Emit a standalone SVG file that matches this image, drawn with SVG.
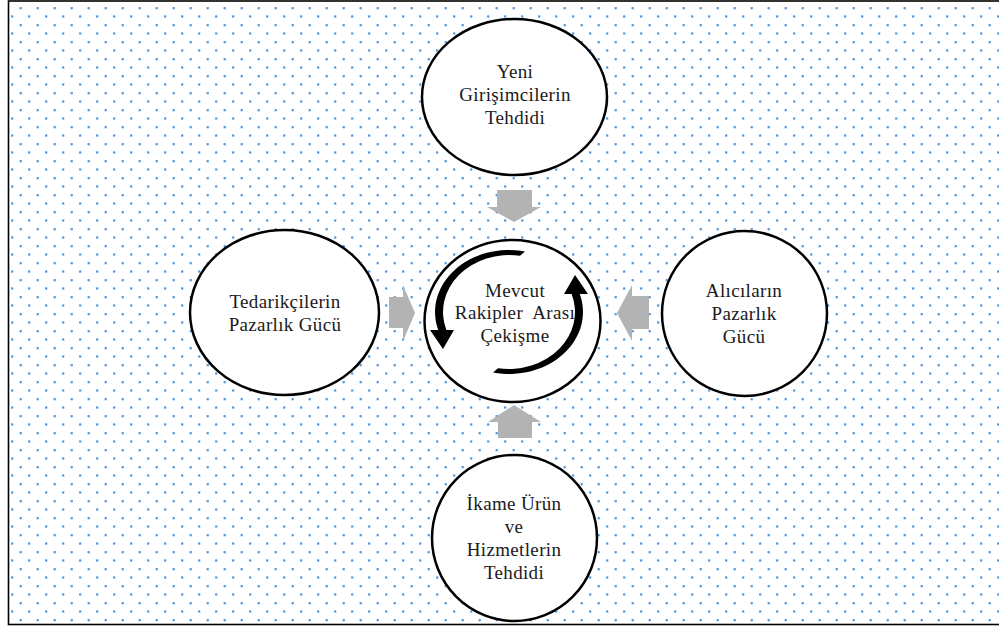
<svg xmlns="http://www.w3.org/2000/svg" width="999" height="626" viewBox="0 0 999 626">
<style>
.node ellipse{fill:#fff;stroke:#000;stroke-width:2.5}
.lbl{font-family:"Liberation Serif","Times New Roman",serif;font-size:19px;letter-spacing:0.35px;fill:#1a1a1a;text-anchor:middle}
.blk{fill:#b3b3b3}
.circ{fill:#000}
</style>
<defs>
<pattern id="dots" patternUnits="userSpaceOnUse" x="0" y="5" width="17" height="17">
<rect x="2.6" y="2.1" width="2.2" height="2.2" fill="#4f93d8"/>
<rect x="11.1" y="10.4" width="2.2" height="2.2" fill="#4f93d8"/>
</pattern>
<path id="carrow" d="M 16,-60.5 A 74 62 0 0 0 -70.8,18 L -79,18 L -66,37 L -55,18 L -62.6,18 A 66 57 0 0 1 11,-56.2 Z"/>
</defs>
<rect x="0" y="0" width="999" height="626" fill="#fff"/>
<rect x="8.5" y="1" width="996" height="623.5" fill="url(#dots)" stroke="#000" stroke-width="1.6"/>
<g id="connectors">
<path class="blk" d="M497,190 H532 V207 H541 L514,222 L487,207 H497 Z"/>
<path class="blk" d="M389,297 H403 V285 L415,313 L403,341 V328 H389 Z"/>
<path class="blk" d="M649,296 H632 V285 L617,313 L632,341 V329 H649 Z"/>
<path class="blk" d="M498,438 V422 H488 L514,405 L541,422 H532 V438 Z"/>
</g>
<g id="node-top" class="node">
<ellipse cx="514.5" cy="97" rx="92.5" ry="78"/>
<text class="lbl" x="515" y="78">Yeni</text>
<text class="lbl" x="515" y="101">Girişimcilerin</text>
<text class="lbl" x="515" y="124">Tehdidi</text>
</g>
<g id="node-left" class="node">
<ellipse cx="284.5" cy="312.5" rx="94.5" ry="82.5"/>
<text class="lbl" x="285" y="308">Tedarikçilerin</text>
<text class="lbl" x="285" y="331">Pazarlık Gücü</text>
</g>
<g id="node-right" class="node">
<ellipse cx="744.5" cy="313.5" rx="82.5" ry="82.5"/>
<text class="lbl" x="744" y="297">Alıcıların</text>
<text class="lbl" x="744" y="320">Pazarlık</text>
<text class="lbl" x="744" y="343">Gücü</text>
</g>
<g id="node-bottom" class="node">
<ellipse cx="514.5" cy="538" rx="82.5" ry="83"/>
<text class="lbl" x="514" y="510">İkame Ürün</text>
<text class="lbl" x="514" y="533">ve</text>
<text class="lbl" x="514" y="556">Hizmetlerin</text>
<text class="lbl" x="514" y="579">Tehdidi</text>
</g>
<g id="node-center" class="node">
<ellipse cx="512.5" cy="321" rx="88" ry="81"/>
<use href="#carrow" class="circ" transform="translate(509,312)"/>
<use href="#carrow" class="circ" transform="translate(509,312) rotate(180)"/>
<text class="lbl" x="515" y="297">Mevcut</text>
<text class="lbl" x="515" y="319" xml:space="preserve">Rakipler  Arası</text>
<text class="lbl" x="515" y="342">Çekişme</text>
</g>
</svg>
